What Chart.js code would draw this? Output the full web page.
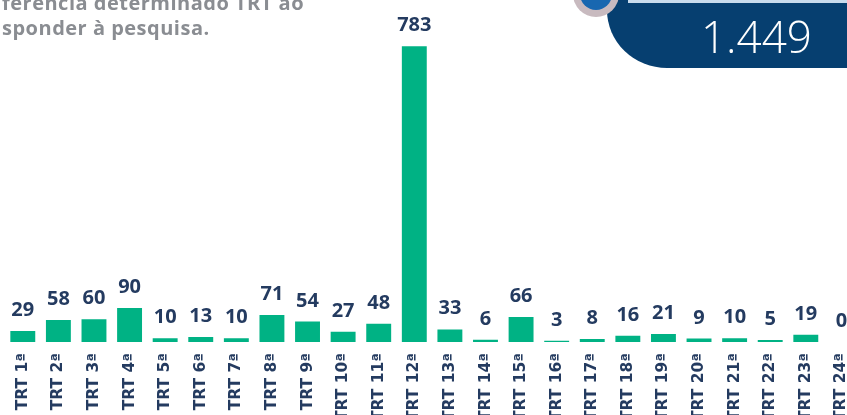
<!DOCTYPE html>
<html>
<head>
<meta charset="utf-8">
<script src="https://cdn.jsdelivr.net/npm/chart.js@4.4.1/dist/chart.umd.min.js"></script>
<style>
  html, body { margin: 0; padding: 0; background: #fff; overflow: hidden; width: 847px; height: 415px; }
  #wrap { position: absolute; left: 0; top: 0; width: 871px; height: 432px; }
  .head { position: absolute; left: 2px; font-family: "Open Sans", sans-serif; font-weight: 700; font-size: 20px; color: #8a8d92; white-space: nowrap; letter-spacing: 0.5px; }
  #badge { position: absolute; left: 607px; top: -10px; width: 260px; height: 78px; background: #063f70; border-bottom-left-radius: 60px 58px; }
  #strip { position: absolute; left: 628px; top: 0; width: 230px; height: 3px; background: #c9dced; }
  #ring { position: absolute; left: 573px; top: -29px; width: 46px; height: 46px; border-radius: 50%; background: #c8babf; }
  #dot { position: absolute; left: 580px; top: -22px; width: 32px; height: 32px; border-radius: 50%; background: #1867b0; }
  #total { position: absolute; left: 701px; top: 8px; font-family: "Open Sans", sans-serif; font-weight: 300; font-size: 44px; color: #fff; line-height: 56px; }
</style>
</head>
<body>
<div id="wrap"><canvas id="c" width="871" height="432"></canvas></div>
<div class="head" id="h1" style="top:-11px;"></div>
<div class="head" id="h2" style="top:14px;"></div>
<div id="badge"></div>
<div id="strip"></div>
<div id="ring"></div>
<div id="dot"></div>
<div id="total"></div>
<script>
const categories = ['TRT 1ª','TRT 2ª','TRT 3ª','TRT 4ª','TRT 5ª','TRT 6ª','TRT 7ª','TRT 8ª','TRT 9ª','TRT 10ª','TRT 11ª','TRT 12ª','TRT 13ª','TRT 14ª','TRT 15ª','TRT 16ª','TRT 17ª','TRT 18ª','TRT 19ª','TRT 20ª','TRT 21ª','TRT 22ª','TRT 23ª','TRT 24ª'];
const values = [29, 58, 60, 90, 10, 13, 10, 71, 54, 27, 48, 783, 33, 6, 66, 3, 8, 16, 21, 9, 10, 5, 19, 0];
const headingLines = ['ferência determinado TRT ao', 'sponder à pesquisa.'];
const totalLabel = '1.449';

document.getElementById('h1').textContent = headingLines[0];
document.getElementById('h2').textContent = headingLines[1];
document.getElementById('total').textContent = totalLabel;

const labelColor = '#243b60';

const valueLabels = {
  id: 'valueLabels',
  afterDatasetsDraw(chart) {
    const ctx = chart.ctx;
    const meta = chart.getDatasetMeta(0);
    ctx.save();
    ctx.font = 'bold 20px "Open Sans", sans-serif';
    ctx.fillStyle = labelColor;
    ctx.textAlign = 'center';
    ctx.textBaseline = 'alphabetic';
    meta.data.forEach((bar, i) => {
      const v = chart.data.datasets[0].data[i];
      ctx.fillText(String(v), bar.x, bar.y - 15);
    });
    ctx.restore();
  }
};

new Chart(document.getElementById('c'), {
  type: 'bar',
  data: {
    labels: categories,
    datasets: [{
      data: values,
      backgroundColor: '#00b284',
      borderWidth: 0,
      barPercentage: 0.7,
      categoryPercentage: 1.0
    }]
  },
  options: {
    responsive: false,
    animation: false,
    devicePixelRatio: 1,
    layout: { padding: { left: 5, right: 0, top: 2, bottom: 0 } },
    plugins: { legend: { display: false }, tooltip: { enabled: false } },
    scales: {
      x: {
        grid: { display: false, drawTicks: false },
        border: { display: false },
        ticks: {
          autoSkip: false,
          minRotation: 90,
          maxRotation: 90,
          padding: 11,
          color: labelColor,
          font: { family: '"DejaVu Sans", sans-serif', weight: 'bold', size: 15.5 }
        }
      },
      y: {
        display: false,
        min: 0,
        max: 900
      }
    }
  },
  plugins: [valueLabels]
});
</script>
</body>
</html>
